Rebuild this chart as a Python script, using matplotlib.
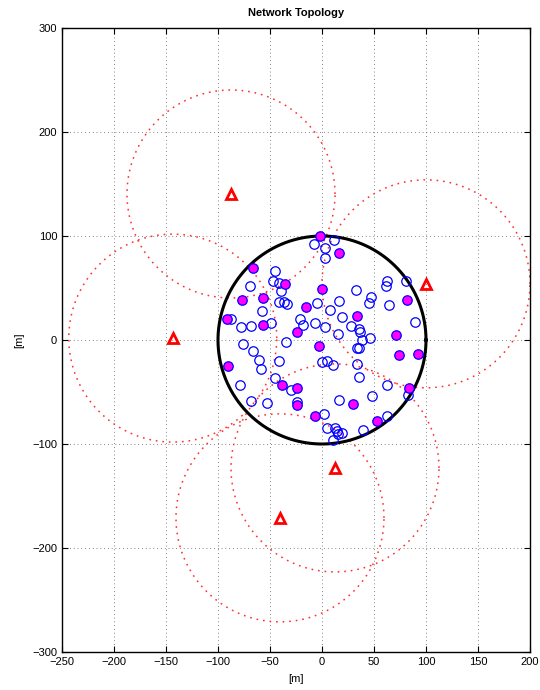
import numpy as np
import matplotlib
matplotlib.use('Agg')
from matplotlib import pyplot as plt

# nodes (open blue circles)
node_x = [-7.4, 11.9, 2.5, 3.0, -45.2, -46.8, -41.3, -39.4, -69.5,
          -41.3, -36.5, -34.0, -57.4, -5.0, -87.5, -77.6, -68.3, -49.0,
          -21.2, -18.0, -7.0, 2.9, -35.0, -75.6,
          32.7, 62.2, 61.5, 80.8, 16.0, 46.8, 45.5, 64.7, 7.7, 19.6, 89.7,
          27.6, 35.3, 36.5, 15.1, 46.2, 38.1,
          -66.7, -60.6, -58.7, -41.3, -0.3, 4.5, -45.2, -78.8, -29.8,
          -68.6, -52.6, -24.4, 1.5,
          33.3, 35.6, 10.9, 34.0, 35.9, 62.8, 83.0, 48.4, 16.7, 62.2,
          39.7, 5.1, 12.5, 14.7, 18.9, 15.7, 10.3]
node_y = [92.3, 96.5, 88.0, 79.0, 66.0, 56.4, 54.8, 47.4, 52.2,
          36.5, 36.5, 34.6, 27.6, 35.3, 20.5, 12.5, 13.8, 16.3,
          20.5, 14.1, 16.0, 12.5, -1.5, -3.5,
          48.4, 56.4, 51.6, 56.4, 37.8, 41.0, 35.6, 34.0, 28.5, 22.1, 17.3,
          13.8, 10.6, 7.4, 6.1, 1.9, 0.3,
          -10.3, -18.9, -27.6, -19.9, -21.5, -19.9, -36.5, -43.0, -47.8,
          -58.3, -60.6, -59.5, -71.5,
          -7.7, -7.7, -24.4, -23.1, -35.9, -43.0, -53.2, -53.5, -57.4, -73.4,
          -86.2, -84.6, -84.6, -87.8, -89.4, -90.4, -95.9]

# selected nodes (filled magenta)
sel_x = [-1.9, 16.7, -66.7, -35.3, 0.3, -56.4, -76.6, -15.1, -91.7, -56.4,
         -24.4, 82.0, 34.0, 71.2, -2.6, -90.1, -38.8, -24.4, -24.4, -6.4,
         74.4, 92.6, 84.0, 29.5, 52.6]
sel_y = [100.0, 83.6, 69.2, 54.1, 49.4, 40.4, 38.8, 31.4, 20.5, 14.1,
         7.4, 38.8, 23.4, 4.5, -5.4, -24.7, -43.6, -46.2, -62.2, -73.4,
         -14.8, -13.5, -46.2, -61.5, -78.2]

# interferers (red triangles) and their ranges
intf_x = [-87.5, 100.0, -143.5, -40.4, 12.5]
intf_y = [140.4, 54.0, 1.8, -171.0, -123.0]
intf_r = 100
cell_r = 100

plt.rcParams['font.family'] = ['Liberation Sans', 'DejaVu Sans']
plt.rcParams['font.size'] = 8

fig = plt.figure(figsize=(5.4, 6.9), dpi=100)
ax = fig.add_axes([62/540, 1-652/690, 468/540, 624/690])

t = np.linspace(0, 2*np.pi, 600)
for cx, cy in zip(intf_x, intf_y):
    ax.plot(cx + intf_r*np.cos(t), cy + intf_r*np.sin(t), color='#ff3030',
            lw=1.1, dashes=(1.1, 3.2))
ax.plot(cell_r*np.cos(t), cell_r*np.sin(t), '-', color='black', lw=2.2)

ax.plot(node_x, node_y, 'o', mfc='none', mec='blue', ms=6.8, mew=0.9)
ax.plot(sel_x, sel_y, 'o', mfc='#ff00ff', mec='blue', ms=6.8, mew=0.9)
ax.plot(intf_x, intf_y, '^', mfc='none', mec='red', ms=7, mew=2)

ax.set_xlim(-250, 200)
ax.set_ylim(-300, 300)
ax.set_xticks(np.arange(-250, 201, 50))
ax.set_yticks(np.arange(-300, 301, 100))
ax.grid(True, color='#555555', lw=0.7, dashes=(0.7, 3.2))
ax.set_axisbelow(True)
ax.tick_params(direction='in', top=True, right=True, length=4, labelsize=8)
for s in ax.spines.values():
    s.set_linewidth(1.0)
ax.set_xlabel('[m]', labelpad=5)
ax.set_ylabel('[m]', labelpad=6)
ax.set_title('Network Topology', fontweight='bold', fontsize=8, pad=9)

fig.savefig('out.png', dpi=100)
